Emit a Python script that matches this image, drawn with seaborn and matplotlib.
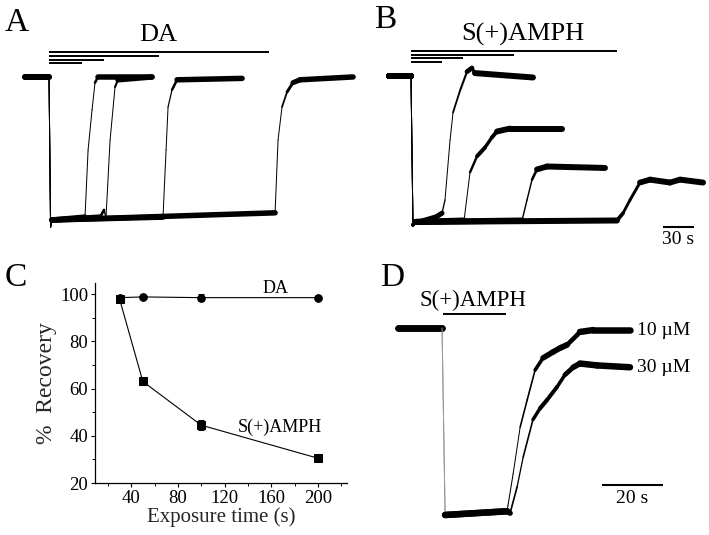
import numpy as np
import pandas as pd
import matplotlib
matplotlib.use("Agg")
import matplotlib.pyplot as plt
from matplotlib.collections import LineCollection
from matplotlib.ticker import MultipleLocator
import seaborn as sns

# exposure durations (s), drawn as bars above the traces in A and B
exposures = [30, 50, 100, 200]

# A: DA traces. time (s) from start of exposure, current normalised (0 = baseline, -1 = full response)
a_pre_t = [-21.8, 0.0, 1.4, 2.7]
a_pre_c = [0.0, 0.0, -1.05, -1.0]
a_rec_t = {
    30: [32.7, 35.5, 39.1, 41.8, 44.5, 93.6],
    50: [46.4, 50.0, 51.8, 55.5, 60.0, 62.7, 93.6],
    100: [103.6, 106.4, 108.2, 111.8, 116.4, 175.5],
    200: [205.5, 208.2, 211.8, 216.4, 221.8, 228.2, 276.4],
}
a_rec_c = {
    30: [-0.98, -0.51, -0.23, -0.04, 0.0, 0.0],
    50: [-0.98, -0.93, -0.98, -0.44, -0.07, -0.02, 0.0],
    100: [-0.98, -0.51, -0.21, -0.09, -0.02, -0.01],
    200: [-0.95, -0.44, -0.21, -0.105, -0.04, -0.02, 0.0],
}

# B: S(+)AMPH traces
b_pre_t = [-21.4, 0.0, 1.9, 4.0]
b_pre_c = [0.0, 0.0, -1.02, -1.0]
b_rec_t = {
    30: [8.7, 23.3, 30.1, 33.0, 37.9, 40.8, 47.6, 54.4, 59.2, 62.1, 118.4],
    50: [51.5, 57.3, 64.1, 71.8, 78.6, 83.5, 96.1, 146.6],
    100: [107.8, 112.6, 117.5, 122.3, 132.0, 188.3],
    200: [200.0, 205.8, 212.6, 222.3, 232.0, 251.5, 261.2, 283.5],
}
b_rec_c = {
    30: [-1.0, -0.97, -0.94, -0.85, -0.44, -0.25, -0.10, 0.03, 0.055, 0.02, -0.01],
    50: [-0.99, -0.66, -0.55, -0.49, -0.42, -0.38, -0.36, -0.36],
    100: [-0.99, -0.85, -0.71, -0.64, -0.62, -0.63],
    200: [-0.99, -0.94, -0.85, -0.73, -0.71, -0.73, -0.71, -0.73],
}

# C: % recovery vs exposure time
exposure_time = [30, 50, 100, 200]
da_recovery = [98.5, 98.8, 98.5, 98.5]
da_err = [0.8, 0.5, 1.5, 0.6]
amph_recovery = [98.0, 63.0, 44.5, 30.5]
amph_err = [1.0, 1.5, 2.0, 1.0]

# D: S(+)AMPH 10 and 30 uM, 21 s exposure
d_exposure = 21.0
d_pre_t = [-14.4, 0.0, 1.0, 21.3]
d_pre_c = [0.0, 0.0, -1.0, -0.98]
d_rec_t = {
    "10 µM": [21.6, 23.3, 25.6, 27.9, 30.5, 33.1, 36.4, 38.7, 41.0, 44.3, 45.2, 49.5, 61.6],
    "30 µM": [22.3, 24.6, 26.6, 29.8, 32.1, 34.4, 37.7, 40.3, 43.0, 45.2, 50.8, 61.6],
}
d_rec_c = {
    "10 µM": [-0.95, -0.78, -0.53, -0.385, -0.225, -0.16, -0.128, -0.107, -0.09, -0.037, -0.021, -0.011, -0.011],
    "30 µM": [-0.99, -0.85, -0.69, -0.49, -0.43, -0.385, -0.315, -0.25, -0.21, -0.19, -0.2, -0.21],
}

sns.set_theme(style="ticks")
plt.rcParams['font.family'] = ['Liberation Serif', 'DejaVu Serif']
plt.rcParams['text.color'] = 'black'

W, H = 709, 535
fig = plt.figure(figsize=(W / 100, H / 100), dpi=100)


def px_axes(l, t, r, b):
    return fig.add_axes([l / W, 1 - b / H, (r - l) / W, (b - t) / H])


def draw_trace(ax, t, c, noise_px=5.5, fast_color='black'):
    # noisy recording: vertical noise band looks thick on flat parts, thin on fast transitions
    pts = np.column_stack([t, c])
    disp = ax.transData.transform(pts)
    d = np.diff(disp, axis=0)
    seg_len = np.maximum(np.hypot(d[:, 0], d[:, 1]), 1e-9)
    lw_px = np.maximum(1.0, noise_px * np.abs(d[:, 0]) / seg_len)
    colors = [fast_color if w < 1.3 and abs(dy) > 100 else 'black'
              for w, dy in zip(lw_px, d[:, 1])]
    segs = np.stack([pts[:-1], pts[1:]], axis=1)
    lc = LineCollection(segs, linewidths=lw_px * 72 / fig.dpi, colors=colors,
                        capstyle='round', joinstyle='round')
    ax.add_collection(lc)


def exposure_bars(ax, durations, top, step):
    for i, dur in enumerate(sorted(durations, reverse=True)):
        ax.plot([0, dur], [top - i * step] * 2, color='black', lw=1.4, solid_capstyle='butt')


# ---- A ----
axA = px_axes(20, 0, 360, 240)
axA.set_xlim(-26.4, 282.7)
axA.set_ylim(-1.14, 0.538)
axA.axis('off')
for dur in exposures:
    draw_trace(axA, a_pre_t + a_rec_t[dur], a_pre_c + a_rec_c[dur])
exposure_bars(axA, exposures, 0.173, 0.026)
axA.text(99, 0.29, "DA", ha='center', va='center', fontsize=19)

# ---- B ----
axB = px_axes(370, 0, 709, 245)
axB.set_xlim(-39.8, 289.3)
axB.set_ylim(-1.158, 0.521)
axB.axis('off')
for dur in exposures:
    draw_trace(axB, b_pre_t + b_rec_t[dur], b_pre_c + b_rec_c[dur], noise_px=6)
exposure_bars(axB, exposures, 0.173, 0.026)
axB.text(108.7, 0.288, "S(+)AMPH", ha='center', va='center', fontsize=19)
axB.plot([244.7, 274.7], [-1.034, -1.034], color='black', lw=1.5, solid_capstyle='butt')
axB.text(259.7, -1.12, "30 s", ha='center', va='center', fontsize=14)

# ---- C ----
axC = px_axes(95, 283, 347, 483)
df = pd.DataFrame({
    'time': exposure_time * 2,
    'recovery': da_recovery + amph_recovery,
    'drug': ['DA'] * len(exposure_time) + ['S(+)AMPH'] * len(exposure_time),
})
sns.lineplot(data=df, x='time', y='recovery', style='drug',
             markers={'DA': 'o', 'S(+)AMPH': 's'}, dashes=False,
             color='black', markersize=5.5, markeredgecolor='black',
             linewidth=0.8, legend=False, ax=axC)
axC.errorbar(exposure_time, da_recovery, yerr=da_err, fmt='none',
             ecolor='black', elinewidth=0.7, capsize=2, capthick=0.7)
axC.errorbar(exposure_time, amph_recovery, yerr=amph_err, fmt='none',
             ecolor='black', elinewidth=0.7, capsize=2, capthick=0.7)
axC.set_xlim(9, 225)
axC.set_ylim(20, 104.7)
sns.despine(ax=axC)
for s in ['left', 'bottom']:
    axC.spines[s].set_linewidth(0.9)
    axC.spines[s].set_color('black')
axC.xaxis.set_major_locator(MultipleLocator(40))
axC.xaxis.set_minor_locator(MultipleLocator(20))
axC.yaxis.set_major_locator(MultipleLocator(20))
axC.yaxis.set_minor_locator(MultipleLocator(10))
axC.tick_params(which='major', direction='out', length=3, width=0.8, color='black',
                labelsize=13.5, pad=2, labelcolor='black', bottom=True, left=True)
axC.tick_params(which='minor', direction='out', length=2, width=0.7, color='black',
                bottom=True, left=True)
axC.set_xlabel("Exposure time (s)", fontsize=15, labelpad=0)
axC.set_ylabel("%  Recovery", fontsize=17, labelpad=2)
axC.text(163.4, 102.5, "DA", ha='center', va='center', fontsize=13)
axC.text(167.7, 43.7, "S(+)AMPH", ha='center', va='center', fontsize=13)

# ---- D ----
axD = px_axes(385, 262, 709, 535)
axD.set_xlim(-18.7, 87.5)
axD.set_ylim(-1.107, 0.353)
axD.axis('off')
for label in d_rec_t:
    draw_trace(axD, d_pre_t + d_rec_t[label], d_pre_c + d_rec_c[label],
               noise_px=6.5, fast_color='#999999')
    axD.text(63.9, d_rec_c[label][-1], label, ha='left', va='center', fontsize=14)
axD.plot([0.3, d_exposure], [0.075, 0.075], color='black', lw=1.4, solid_capstyle='butt')
axD.text(10.2, 0.15, "S(+)AMPH", ha='center', va='center', fontsize=16.5)
axD.plot([52.5, 72.5], [-0.84, -0.84], color='black', lw=1.5, solid_capstyle='butt')
axD.text(62.3, -0.91, "20 s", ha='center', va='center', fontsize=14)

# panel letters
for letter, x, y in [("A", 5, 31), ("B", 374, 28), ("C", 5, 286), ("D", 380, 286)]:
    fig.text(x / W, 1 - y / H, letter, fontsize=24, ha='left', va='baseline')

fig.savefig("out.png", dpi=100, facecolor='white')
